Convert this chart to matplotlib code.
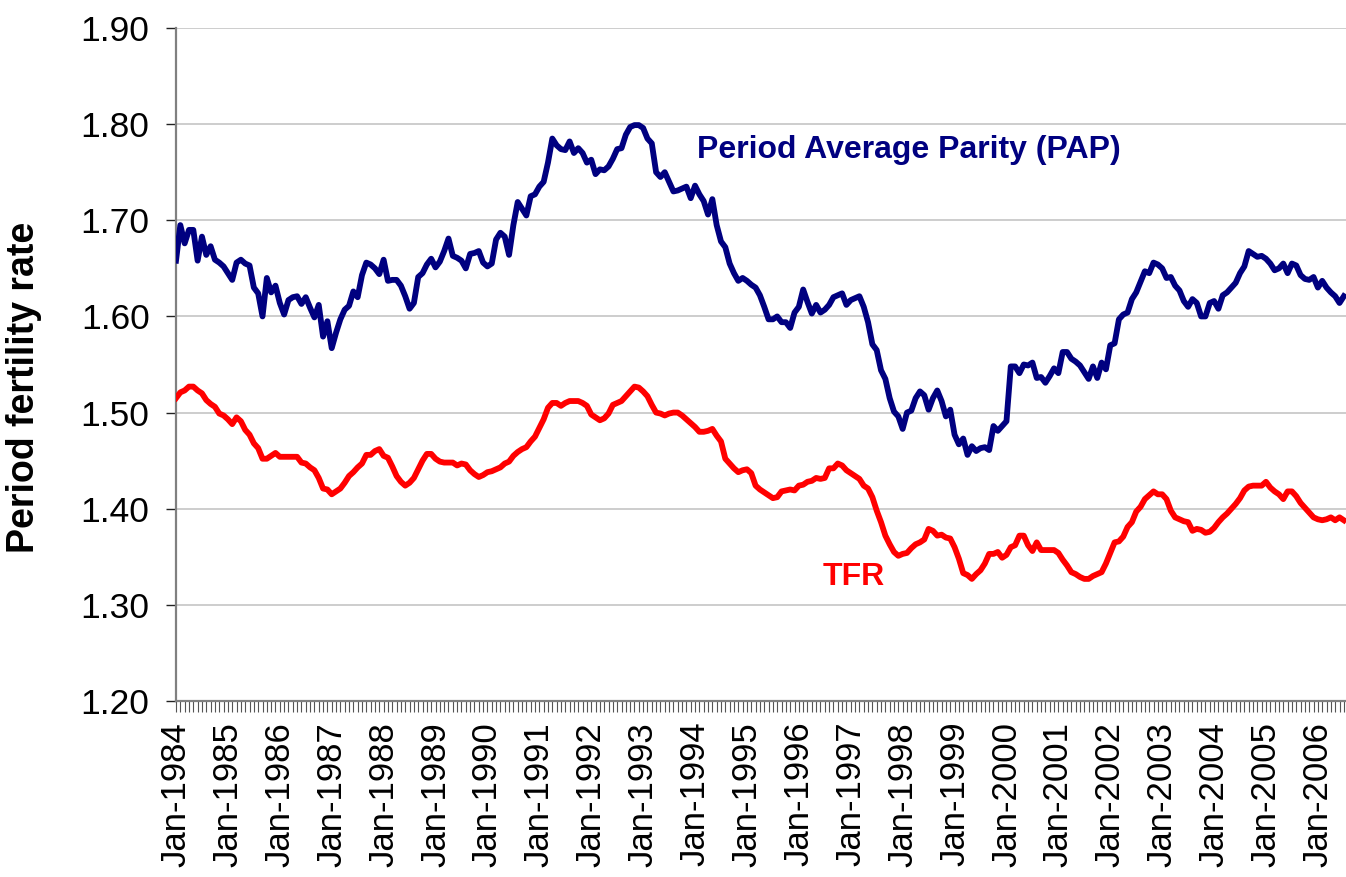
import matplotlib
matplotlib.use("Agg")
import matplotlib.pyplot as plt
import numpy as np

plt.rcParams['font.family'] = ['Liberation Sans', 'DejaVu Sans']

# Monthly series, Jan-1984 .. Jul-2006
pap = [
    1.658, 1.695, 1.676, 1.690, 1.690, 1.658, 1.683, 1.664, 1.673, 1.659, 1.656, 1.652,
    1.645, 1.638, 1.656, 1.659, 1.655, 1.653, 1.630, 1.624, 1.600, 1.640, 1.625, 1.632,
    1.614, 1.602, 1.617, 1.620, 1.621, 1.613, 1.620, 1.609, 1.599, 1.612, 1.579, 1.595,
    1.567, 1.583, 1.597, 1.607, 1.611, 1.626, 1.620, 1.643, 1.656, 1.654, 1.650, 1.644,
    1.659, 1.637, 1.638, 1.638, 1.632, 1.621, 1.608, 1.614, 1.641, 1.645, 1.654, 1.660,
    1.651, 1.657, 1.668, 1.681, 1.663, 1.661, 1.658, 1.650, 1.665, 1.666, 1.668, 1.656,
    1.652, 1.655, 1.680, 1.687, 1.683, 1.664, 1.695, 1.719, 1.712, 1.705, 1.725, 1.727,
    1.735, 1.740, 1.760, 1.785, 1.778, 1.774, 1.773, 1.782, 1.770, 1.775, 1.770, 1.760,
    1.763, 1.748, 1.753, 1.752, 1.756, 1.764, 1.774, 1.775, 1.789, 1.797, 1.799, 1.799,
    1.796, 1.785, 1.780, 1.750, 1.745, 1.750, 1.740, 1.730, 1.731, 1.733, 1.735, 1.723,
    1.736, 1.727, 1.720, 1.706, 1.722, 1.695, 1.678, 1.672, 1.655, 1.645, 1.637, 1.640,
    1.637, 1.633, 1.630, 1.622, 1.610, 1.597, 1.597, 1.600, 1.594, 1.594, 1.588, 1.604,
    1.610, 1.628, 1.615, 1.603, 1.612, 1.604, 1.607, 1.612, 1.620, 1.622, 1.624, 1.612,
    1.617, 1.619, 1.621, 1.610, 1.594, 1.571, 1.565, 1.544, 1.535, 1.515, 1.501, 1.496,
    1.483, 1.500, 1.502, 1.515, 1.522, 1.518, 1.503, 1.515, 1.523, 1.512, 1.496, 1.503,
    1.477, 1.467, 1.473, 1.456, 1.465, 1.460, 1.463, 1.464, 1.461, 1.486, 1.481, 1.486,
    1.491, 1.548, 1.548, 1.541, 1.550, 1.549, 1.552, 1.536, 1.537, 1.531, 1.538, 1.546,
    1.541, 1.563, 1.563, 1.556, 1.553, 1.549, 1.542, 1.535, 1.548, 1.536, 1.552, 1.545,
    1.570, 1.572, 1.597, 1.602, 1.604, 1.618, 1.625, 1.636, 1.647, 1.645, 1.656, 1.654,
    1.650, 1.640, 1.641, 1.632, 1.627, 1.616, 1.610, 1.618, 1.614, 1.600, 1.600, 1.614,
    1.616, 1.608, 1.622, 1.625, 1.630, 1.635, 1.645, 1.652, 1.668, 1.665, 1.662, 1.663,
    1.660, 1.655, 1.648, 1.650, 1.655, 1.645, 1.655, 1.653, 1.643, 1.639, 1.638, 1.641,
    1.630, 1.637, 1.630, 1.625, 1.621, 1.614, 1.621,
]

tfr = [
    1.515, 1.521, 1.523, 1.527, 1.527, 1.523, 1.520, 1.513, 1.509, 1.506, 1.499, 1.497,
    1.493, 1.488, 1.495, 1.491, 1.482, 1.477, 1.468, 1.463, 1.452, 1.452, 1.455, 1.458,
    1.454, 1.454, 1.454, 1.454, 1.454, 1.448, 1.447, 1.443, 1.440, 1.432, 1.421, 1.420,
    1.415, 1.418, 1.421, 1.427, 1.434, 1.438, 1.443, 1.447, 1.456, 1.456, 1.460, 1.462,
    1.455, 1.453, 1.444, 1.434, 1.428, 1.424, 1.427, 1.432, 1.441, 1.450, 1.457, 1.457,
    1.452, 1.449, 1.448, 1.448, 1.448, 1.445, 1.447, 1.446, 1.440, 1.436, 1.433, 1.435,
    1.438, 1.439, 1.441, 1.443, 1.447, 1.449, 1.455, 1.459, 1.462, 1.464, 1.470, 1.475,
    1.484, 1.493, 1.505, 1.510, 1.510, 1.507, 1.510, 1.512, 1.512, 1.512, 1.510, 1.507,
    1.498, 1.495, 1.492, 1.494, 1.499, 1.508, 1.510, 1.512, 1.517, 1.522, 1.527, 1.526,
    1.522, 1.517, 1.508, 1.500, 1.499, 1.497, 1.499, 1.500, 1.500, 1.497, 1.493, 1.489,
    1.485, 1.480, 1.480, 1.481, 1.483, 1.476, 1.470, 1.452, 1.447, 1.442, 1.438, 1.440,
    1.441, 1.437, 1.424, 1.420, 1.417, 1.414, 1.411, 1.412, 1.418, 1.419, 1.420, 1.419,
    1.424, 1.425, 1.428, 1.429, 1.432, 1.431, 1.432, 1.442, 1.442, 1.447, 1.445, 1.440,
    1.437, 1.434, 1.431, 1.424, 1.421, 1.412, 1.398, 1.386, 1.372, 1.363, 1.355, 1.351,
    1.353, 1.354, 1.359, 1.363, 1.365, 1.368, 1.379, 1.377, 1.372, 1.373, 1.370, 1.369,
    1.360, 1.348, 1.333, 1.331, 1.327, 1.332, 1.336, 1.343, 1.353, 1.353, 1.355, 1.349,
    1.352, 1.360, 1.362, 1.372, 1.372, 1.362, 1.356, 1.365, 1.357, 1.357, 1.357, 1.357,
    1.354, 1.347, 1.341, 1.334, 1.332, 1.329, 1.327, 1.327, 1.330, 1.332, 1.334, 1.343,
    1.354, 1.365, 1.366, 1.371, 1.381, 1.386, 1.397, 1.402, 1.410, 1.414, 1.418, 1.415,
    1.415, 1.410, 1.398, 1.391, 1.389, 1.387, 1.386, 1.377, 1.379, 1.378, 1.375, 1.376,
    1.380, 1.386, 1.391, 1.395, 1.400, 1.405, 1.411, 1.419, 1.423, 1.424, 1.424, 1.424,
    1.428, 1.422, 1.418, 1.415, 1.410, 1.418, 1.418, 1.413, 1.406, 1.401, 1.396, 1.391,
    1.389, 1.388, 1.389, 1.391, 1.388, 1.391, 1.388,
]

years = list(range(1984, 2007))
year_labels = [f"Jan-{y}" for y in years]
y_ticks = [1.20, 1.30, 1.40, 1.50, 1.60, 1.70, 1.80, 1.90]

months = np.arange(len(pap))

fig = plt.figure(figsize=(13.46, 8.77), dpi=100)
ax = fig.add_axes([176 / 1346, 1 - 701 / 877, (1346 - 176) / 1346, (701 - 28) / 877])

ax.plot(months, pap, color='#000080', lw=4.2, solid_joinstyle='round', zorder=3)
ax.plot(months, tfr, color='#FF0000', lw=4.2, solid_joinstyle='round', zorder=3)

ax.set_xlim(0, len(pap) - 0.5)
ax.set_ylim(1.20, 1.90)
ax.set_yticks(y_ticks)
ax.set_yticklabels([f"{v:.2f}" for v in y_ticks], fontsize=25.5)
ax.set_xticks([12 * i for i in range(len(years))])
ax.set_xticklabels(year_labels, rotation=90, fontsize=25, va='top', ha='center')
ax.set_xticks(months, minor=True)

ax.grid(axis='y', color='#C0C0C0', lw=1.1, zorder=0)
ax.set_axisbelow(True)
for s in ['top', 'right']:
    ax.spines[s].set_visible(False)
for s in ['left', 'bottom']:
    ax.spines[s].set_color('#808080')
    ax.spines[s].set_linewidth(1.6)

ax.tick_params(axis='y', direction='out', length=7, width=1, color='#222222', pad=12)
ax.tick_params(axis='x', which='both', direction='out', length=8, width=0.8,
               color='#555555', pad=7)

ax.set_ylabel("Period fertility rate", fontsize=27, fontweight='bold')
ax.yaxis.set_label_coords(-0.1145, 0.466)

ax.text(120.5, 1.765, "Period Average Parity (PAP)", color='#000080', fontsize=23,
        fontweight='bold', ha='left', va='baseline')
ax.text(149.5, 1.3207, "TFR", color='#FF0000', fontsize=23,
        fontweight='bold', ha='left', va='baseline')

fig.savefig("out.png", dpi=100)
